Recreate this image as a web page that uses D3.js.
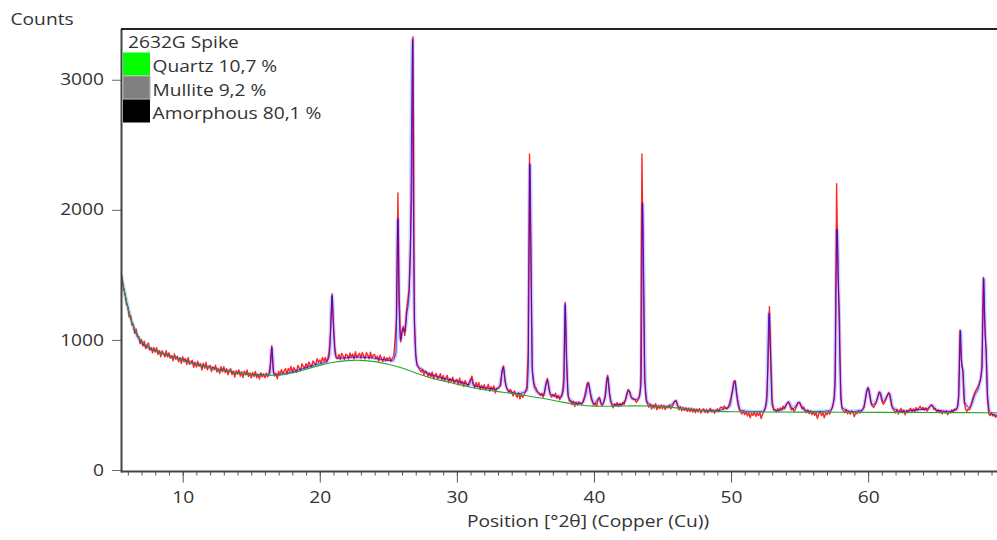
<!DOCTYPE html>
<html>
<head>
<meta charset="utf-8">
<script src="https://cdn.jsdelivr.net/npm/d3@7"></script>
<style>
  html, body { margin: 0; padding: 0; background: #fff; }
  svg { display: block; }
  text { font-family: "Open Sans", "Noto Sans", sans-serif; fill: #333; }
</style>
</head>
<body>
<svg id="chart" width="997" height="540"></svg>
<script>
// Observed pattern, sampled every 0.1 °2θ starting at 5.5
const obsStart = 5.5;
const obsStep = 0.1;
const observed = [
  1510,1462,1385,1352,1275,
  1255,1175,1188,1115,1122,1050,1085,1025,1026,970,
  1003,953,990,933,960,977,922,940,900,942,
  906,941,888,919,870,917,896,869,918,870,
  901,859,878,840,893,852,875,832,863,818,
  871,832,858,811,865,812,830,843,789,828,
  792,837,799,818,768,821,783,828,770,795,
  805,757,793,771,805,753,777,741,794,755,
  795,749,779,731,767,779,733,757,715,763,
  737,770,721,755,710,759,734,769,719,744,
  709,750,719,758,709,734,699,748,716,739,
  709,745,716,746,814,955,765,724,744,701,
  760,730,772,740,762,780,735,780,761,796,
  750,789,770,751,804,783,764,817,796,781,
  817,788,831,806,791,838,823,808,855,828,
  845,823,865,836,865,829,860,930,1080,1355,
  1120,940,860,857,889,852,897,876,851,890,
  884,853,899,870,892,852,909,865,883,897,
  861,903,878,854,903,884,855,906,863,883,
  889,855,875,837,885,857,835,871,839,863,
  845,868,836,862,875,1010,1180,2130,1300,985,
  1060,1105,1035,1190,1290,1370,1640,2100,3330,1150,
  880,805,790,768,752,775,728,762,750,716,
  746,715,753,700,730,741,697,718,740,693,
  727,686,708,727,671,704,682,713,665,686,
  698,655,707,662,684,641,689,664,646,677,
  695,722,668,631,673,639,673,617,651,627,
  656,616,635,659,606,640,615,647,592,628,
  625,640,650,760,800,700,640,618,596,620,
  600,568,608,577,557,595,545,583,558,578,
  600,640,900,2430,1560,760,680,640,625,600,
  590,575,590,560,600,660,705,640,585,560,
  580,568,590,552,575,540,565,600,700,1290,
  860,580,530,532,502,528,490,522,498,524,
  515,505,528,560,610,665,675,610,548,520,
  498,515,490,545,560,510,496,518,560,665,
  728,620,530,500,478,510,492,520,488,512,
  498,520,505,540,590,620,600,560,545,550,
  540,520,535,560,640,2430,1500,680,540,510,
  482,505,468,498,475,510,462,495,472,500,
  470,498,465,490,478,502,470,488,505,530,
  535,495,462,488,455,482,458,478,450,475,
  448,476,445,470,440,468,447,472,438,462,
  470,442,465,438,460,475,445,462,436,458,
  470,448,478,485,470,492,478,470,482,520,
  560,610,680,688,590,505,462,445,430,452,
  425,448,415,440,402,436,420,445,412,438,
  418,442,395,430,452,470,560,800,1256,870,
  540,460,465,448,472,455,478,462,490,470,
  495,515,525,490,462,475,448,470,495,520,
  518,490,470,485,455,440,462,432,455,425,
  448,420,440,395,432,452,418,440,402,438,
  425,450,430,462,480,540,700,2200,1500,1200,
  560,470,455,440,465,432,450,428,455,440,
  410,445,432,455,438,450,468,480,540,610,
  635,580,520,495,480,500,520,560,600,580,
  530,505,520,545,575,595,560,500,470,455,
  438,465,430,452,475,440,462,425,458,440,
  462,475,448,470,445,480,458,475,490,465,
  482,460,478,452,470,488,502,490,465,472,
  448,462,440,458,430,452,438,455,425,448,
  440,462,448,470,460,480,560,1075,850,770,
  530,470,450,470,462,500,540,570,600,620,
  640,665,700,790,1480,1150,920,560,430,418,
  440,415,425,405,418
];

// Calculated profile: [position, counts]
const calculated = [
  [5.5,1500],[5.7,1395],[6.0,1250],[6.5,1075],[7.0,980],[8.0,918],[9.0,878],[10,848],
  [11,812],[12,787],[13,767],[14,747],[15,735],[16.2,728],[16.35,740],[16.5,940],
  [16.65,742],[16.8,730],[17.5,742],[18.5,770],[19.5,805],[20.5,835],[20.7,880],
  [20.9,1340],[21.0,1080],[21.15,880],[21.4,858],[22.5,868],[23.5,866],[24.5,850],
  [25.3,840],[25.55,900],[25.7,1930],[25.78,1250],[25.9,1000],[26.05,1090],[26.2,1060],
  [26.35,1200],[26.5,1330],[26.62,1800],[26.77,3310],[26.85,1700],[26.95,1000],
  [27.1,810],[27.5,768],[28.5,720],[29.5,693],[30.5,668],[30.9,655],[31.05,700],
  [31.2,652],[32,632],[32.8,622],[33.1,640],[33.38,790],[33.55,660],[33.8,605],
  [34.5,588],[35.1,610],[35.2,760],[35.33,2350],[35.43,1500],[35.5,800],[35.65,640],
  [36.0,585],[36.3,575],[36.6,690],[36.8,590],[37.2,565],[37.6,560],[37.8,640],
  [37.9,1270],[38.0,850],[38.15,560],[38.5,520],[39.1,510],[39.4,580],[39.58,665],
  [39.75,590],[40.0,510],[40.38,550],[40.6,505],[40.85,580],[40.99,715],[41.15,580],
  [41.4,500],[42.0,500],[42.3,540],[42.54,610],[42.75,560],[43.0,540],[43.3,560],
  [43.45,700],[43.54,2050],[43.63,1480],[43.72,700],[43.9,520],[44.5,490],[45.5,488],
  [45.95,530],[46.2,480],[47,466],[48,456],[49,455],[49.5,470],[49.9,490],[50.1,600],
  [50.27,680],[50.45,560],[50.7,460],[51.5,448],[52.3,450],[52.6,520],[52.77,1205],
  [52.88,860],[53.0,500],[53.3,455],[53.8,470],[54.2,520],[54.5,470],[54.96,520],
  [55.3,465],[56,448],[57.2,455],[57.55,560],[57.73,1850],[57.85,1330],[57.95,800],
  [58.1,480],[58.8,450],[59.6,462],[60.0,630],[60.3,500],[60.6,530],[60.86,600],
  [61.1,525],[61.55,590],[61.8,480],[62.5,450],[63.5,462],[64.3,470],[64.65,498],
  [65.0,460],[66.0,450],[66.5,475],[66.6,560],[66.74,1070],[66.82,800],[66.91,765],
  [67.05,520],[67.4,480],[67.8,580],[68.1,650],[68.3,780],[68.44,1470],[68.53,1050],
  [68.61,915],[68.72,560],[68.9,440],[69.4,420]
];

// Background (amorphous hump + instrument background): [position, counts]
const background = [
  [5.5,1510],[5.6,1450],[5.8,1345],[6.0,1245],[6.2,1165],[6.4,1105],[6.7,1035],
  [7.0,980],[7.5,945],[8.0,918],[9,877],[10,845],[11,810],[12,785],[13,765],[14,745],
  [15,733],[16,725],[17,728],[18,745],[19,775],[20,805],[21,830],[22,842],[23,845],
  [24,835],[25,815],[26,785],[27,745],[28,710],[29,685],[30,660],[31,635],[32,617],
  [33,602],[34,590],[35,572],[36,555],[37,537],[38,515],[39,498],[40,490],[41,490],
  [42,492],[43,493],[44,492],[45,488],[46,478],[47,465],[48,455],[49,450],[50,447],
  [52,446],[55,445],[58,444],[61,443],[64,442],[67,441],[69.4,440]
];

const xTicks = [10, 20, 30, 40, 50, 60];
const xMinorTicks = d3.range(6, 70, 1);
const yTicks = [0, 1000, 2000, 3000];

const legendTitle = "2632G Spike";
const legendItems = [
  { label: "Quartz 10,7 %", color: "#00ff00" },
  { label: "Mullite 9,2 %", color: "#808080" },
  { label: "Amorphous 80,1 %", color: "#000000" }
];

const yTitle = "Counts";
const xTitle = "Position [°2θ] (Copper (Cu))";

// Layout
const plot = { left: 121, right: 997, top: 29, bottom: 470, axisY: 471.5 };
const stretch = 1.2; // horizontal glyph stretch of the labels
const fontSize = 16;

const svg = d3.select("#chart");

const x = d3.scaleLinear().domain([5.5, 69.4]).range([plot.left, plot.right]);
const y = d3.scaleLinear().domain([0, 3390]).range([plot.bottom, plot.top]);

svg.append("defs").append("clipPath").attr("id", "plotClip")
  .append("rect")
  .attr("x", plot.left + 1).attr("y", plot.top)
  .attr("width", plot.right - plot.left).attr("height", plot.axisY - plot.top);

const obsPoints = observed.map((v, i) => [obsStart + i * obsStep, v]);

const lineObs = d3.line().x(d => x(d[0])).y(d => y(d[1]));
const lineSmooth = d3.line().x(d => x(d[0])).y(d => y(d[1])).curve(d3.curveMonotoneX);
const lineBg = d3.line().x(d => x(d[0])).y(d => y(d[1])).curve(d3.curveBasis);

const traces = svg.append("g").attr("clip-path", "url(#plotClip)");

// calculated halo, drawn first
traces.append("path").datum(calculated)
  .attr("d", lineSmooth).attr("fill", "none")
  .attr("stroke", "#5a5aff").attr("stroke-opacity", 0.28)
  .attr("stroke-width", 4).attr("stroke-linejoin", "round");

// observed
traces.append("path").datum(obsPoints)
  .attr("d", lineObs).attr("fill", "none")
  .attr("stroke", "#ff0000").attr("stroke-opacity", 0.85)
  .attr("stroke-width", 1.4).attr("stroke-linejoin", "round");

// calculated core line over the observed trace
traces.append("path").datum(calculated)
  .attr("d", lineSmooth).attr("fill", "none")
  .attr("stroke", "#0000ff").attr("stroke-opacity", 0.7)
  .attr("stroke-width", 1);

// background
traces.append("path").datum(background)
  .attr("d", lineBg).attr("fill", "none")
  .attr("stroke", "#2aa52a").attr("stroke-width", 1.1);

// Axes
const gxMinor = svg.append("g").attr("transform", `translate(0,${plot.axisY})`)
  .call(d3.axisBottom(x).tickValues(xMinorTicks).tickSize(4).tickFormat(""));
gxMinor.select(".domain").remove();
gxMinor.selectAll("line").attr("stroke", "#555");

const gx = svg.append("g").attr("transform", `translate(0,${plot.axisY})`)
  .call(d3.axisBottom(x).tickValues(xTicks).tickSize(11).tickPadding(9).tickFormat(d3.format("d")));
gx.select(".domain").remove();
gx.selectAll("line").attr("stroke", "#555");
gx.selectAll("text")
  .attr("transform", `scale(${stretch},1)`)
  .style("font-size", fontSize + "px").style("font-family", "'Open Sans', sans-serif")
  .attr("fill", "#333");

const gy = svg.append("g").attr("transform", `translate(${plot.left + 0.5},0)`)
  .call(d3.axisLeft(y).tickValues(yTicks).tickSize(9.5).tickFormat(d3.format("d")));
gy.select(".domain").remove();
gy.selectAll("line").attr("stroke", "#666");
gy.selectAll("text")
  .attr("x", -17.5 / stretch)
  .attr("transform", `scale(${stretch},1)`)
  .style("font-size", fontSize + "px").style("font-family", "'Open Sans', sans-serif")
  .attr("fill", "#333");

// Frame lines
svg.append("line").attr("x1", plot.left + 0.5).attr("x2", plot.left + 0.5)
  .attr("y1", plot.top).attr("y2", plot.axisY + 1)
  .attr("stroke", "#444").attr("stroke-width", 2);
svg.append("line").attr("x1", plot.left).attr("x2", plot.right)
  .attr("y1", plot.axisY).attr("y2", plot.axisY)
  .attr("stroke", "#444").attr("stroke-width", 2);
svg.append("line").attr("x1", plot.left).attr("x2", plot.right)
  .attr("y1", plot.top).attr("y2", plot.top)
  .attr("stroke", "#222").attr("stroke-width", 2);

// Stretched text helper
function label(px, py, str, anchor) {
  return svg.append("text")
    .attr("transform", `translate(${px},${py}) scale(${stretch},1)`)
    .attr("text-anchor", anchor || "start")
    .style("font-size", fontSize + "px")
    .text(str);
}

label(10.5, 25, yTitle).attr("fill", "#3a3a3a");
label(588, 527, xTitle, "middle");

// Legend
label(128, 48, legendTitle);
const swatchTop = 52.5, swatchH = 23.5;
legendItems.forEach((d, i) => {
  svg.append("rect")
    .attr("x", 123).attr("y", swatchTop + i * swatchH)
    .attr("width", 27).attr("height", swatchH - 0.5)
    .attr("fill", d.color)
    .attr("stroke", i === 1 ? "#b0b0b0" : "none").attr("stroke-width", 1);
  label(152.5, swatchTop + i * swatchH + 19.8, d.label);
});
</script>
</body>
</html>
